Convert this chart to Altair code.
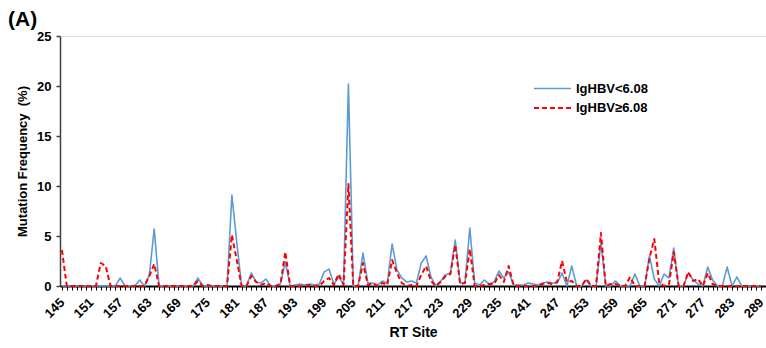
import altair as alt
import pandas as pd

# RT sites on the x axis (one point per site)
rt_sites = list(range(145, 290))

# Mutation frequency (%) per site, IgHBV below 6.08
freq_low = [
    0, 0, 0, 0, 0, 0, 0, 0, 0, 0,            # 145-154
    0, 0, 0.8, 0, 0, 0, 0.6, 0, 1.1, 5.7,    # 155-164
    0, 0, 0, 0, 0, 0, 0, 0, 0.8, 0,          # 165-174
    0, 0, 0, 0, 0, 9.1, 4.4, 0, 0, 1.3,      # 175-184
    0.4, 0.3, 0.7, 0, 0, 0.2, 2.4, 0, 0.1, 0.2,      # 185-194
    0.1, 0.2, 0.1, 0.2, 1.4, 1.7, 0.2, 0.9, 0.2, 20.2,  # 195-204
    0, 0, 3.3, 0.3, 0.3, 0.1, 0.5, 0.3, 4.2, 1.6,    # 205-214
    0.8, 0.4, 0.5, 0.3, 2.3, 3.0, 0.9, 0, 0.5, 1.1,  # 215-224
    1.3, 4.6, 0.3, 0.3, 5.8, 0.3, 0.1, 0.6, 0.2, 0.4,  # 225-234
    1.5, 0.8, 1.4, 0.1, 0.1, 0.1, 0.3, 0.2, 0.1, 0.3,  # 235-244
    0.4, 0.3, 0.3, 1.3, 0, 2.0, 0, 0, 0.6, 0,        # 245-254
    0, 4.3, 0, 0, 0.5, 0, 0, 0, 1.2, 0,              # 255-264
    0, 3.0, 0.7, 0, 1.2, 0.8, 3.8, 0, 0, 1.3,        # 265-274
    0.6, 0.2, 0, 1.9, 0.6, 0, 0, 1.9, 0, 0.9,        # 275-284
    0, 0, 0, 0, 0,                                   # 285-289
]

# Mutation frequency (%) per site, IgHBV at or above 6.08
freq_high = [
    3.6, 0, 0, 0, 0, 0, 0, 0, 2.3, 2.0,      # 145-154
    0, 0, 0, 0, 0, 0, 0, 0, 1.0, 2.2,        # 155-164
    0, 0, 0, 0, 0, 0, 0, 0, 0.5, 0,          # 165-174
    0.1, 0, 0, 0, 0, 5.1, 2.6, 0, 0, 1.0,    # 175-184
    0.4, 0.1, 0.3, 0, 0, 0.2, 3.4, 0, 0, 0,  # 185-194
    0, 0.1, 0, 0, 0.5, 0.8, 0.1, 1.2, 0.1, 10.2,     # 195-204
    0, 0, 2.3, 0.1, 0.3, 0, 0.3, 0.1, 2.6, 1.3,      # 205-214
    0.3, 0, 0.1, 0, 1.1, 2.0, 0.5, 0, 0.4, 1.0,      # 215-224
    1.2, 4.1, 0.2, 0.3, 3.7, 0, 0, 0.1, 0.2, 0.2,    # 225-234
    1.1, 0.4, 2.0, 0.1, 0, 0, 0, 0, 0, 0.2,          # 235-244
    0.3, 0.2, 0.4, 2.5, 0.4, 0.5, 0, 0, 0.7, 0,      # 245-254
    0, 5.3, 0, 0.2, 0.2, 0, 0, 0.9, 0, 0,            # 255-264
    0, 2.8, 4.7, 0.3, 0, 0.1, 3.4, 0, 0, 1.4,        # 265-274
    0.5, 0.7, 0, 1.3, 0.2, 0, 0, 0, 0, 0,            # 275-284
    0, 0, 0, 0, 0,                                   # 285-289
]

series_names = ["IgHBV<6.08", "IgHBV\u22656.08"]
series_colors = ["#5B9BD5", "#FF0000"]
series_dash = [[1, 0], [5, 3]]
series_width = [1.6, 2.0]
y_ticks = [0, 5, 10, 15, 20, 25]
panel_tag = ["(A)"]

FONT = "Liberation Sans"

df = pd.concat(
    [
        pd.DataFrame({"site": rt_sites, "freq": freq_low, "group": series_names[0]}),
        pd.DataFrame({"site": rt_sites, "freq": freq_high, "group": series_names[1]}),
    ],
    ignore_index=True,
)

legend_cfg = dict(
    title=None,
    orient="none",
    legendX=482,
    legendY=42,
    symbolType="M-2,0H2",
    symbolSize=342,
    symbolStrokeWidth=1.6,
    labelOffset=13,
    labelFont=FONT,
    labelFontSize=13,
    labelFontWeight="bold",
    labelColor="#000000",
    rowPadding=1.5,
    padding=0,
)

lines = (
    alt.Chart(df)
    .mark_line(strokeJoin="round")
    .encode(
        x=alt.X(
            "site:Q",
            scale=alt.Scale(domain=[144.6, 290], nice=False, zero=False),
            axis=alt.Axis(
                title="RT Site",
                values=rt_sites,
                format="d",
                labelExpr="(datum.value - 145) % 6 == 0 ? datum.label : ''",
                labelOverlap=False,
                labelAngle=-45,
                labelAlign="right",
                labelBaseline="middle",
                labelPadding=10,
                labelOffset=0,
                labelFont=FONT,
                labelFontSize=13,
                labelFontWeight="bold",
                labelColor="#000000",
                domainColor="#000000",
                domainWidth=2,
                tickColor="#000000",
                tickWidth=1,
                tickSize=4,
                grid=False,
                titleFont=FONT,
                titleFontSize=14,
                titleFontWeight="bold",
                titleColor="#000000",
                titleX=353,
                titleY=46,
                titleAlign="center",
                titleBaseline="middle",
            ),
        ),
        y=alt.Y(
            "freq:Q",
            scale=alt.Scale(domain=[0, 25], nice=False),
            axis=alt.Axis(
                title="Mutation Frequency \u00a0(%)",
                values=y_ticks,
                labelFont=FONT,
                labelFontSize=13,
                labelFontWeight="bold",
                labelColor="#000000",
                labelPadding=5,
                domainColor="#404040",
                domainWidth=1.5,
                tickColor="#404040",
                tickWidth=1.5,
                tickSize=4,
                grid=False,
                titleFont=FONT,
                titleFontSize=13,
                titleFontWeight="bold",
                titleColor="#000000",
                titleAngle=-90,
                titleX=-38,
                titleY=125,
                titleAlign="center",
                titleBaseline="middle",
            ),
        ),
        color=alt.Color(
            "group:N",
            scale=alt.Scale(domain=series_names, range=series_colors),
            legend=alt.Legend(**legend_cfg),
        ),
        strokeDash=alt.StrokeDash(
            "group:N",
            scale=alt.Scale(domain=series_names, range=series_dash),
            legend=alt.Legend(**legend_cfg),
        ),
        strokeWidth=alt.StrokeWidth(
            "group:N",
            scale=alt.Scale(domain=series_names, range=series_width),
            legend=None,
        ),
        order=alt.Order("site:Q"),
    )
)

# Panel tag in the top-left corner, outside the plot area
tag = (
    alt.Chart(pd.DataFrame({"tag": panel_tag}))
    .mark_text(
        font=FONT,
        fontSize=21,
        fontWeight="bold",
        color="#000000",
        align="left",
        baseline="alphabetic",
    )
    .encode(text="tag:N", x=alt.value(-52), y=alt.value(-10))
)

chart = (
    alt.layer(lines, tag)
    .properties(
        width=706,
        height=250,
        autosize=alt.AutoSizeParams(type="none"),
        padding={"left": 60, "top": 36, "right": 0, "bottom": 62},
    )
    .configure_view(stroke=None)
    .configure(background="white")
)

chart.save("out.html", embed_options={"renderer": "svg", "actions": False})
